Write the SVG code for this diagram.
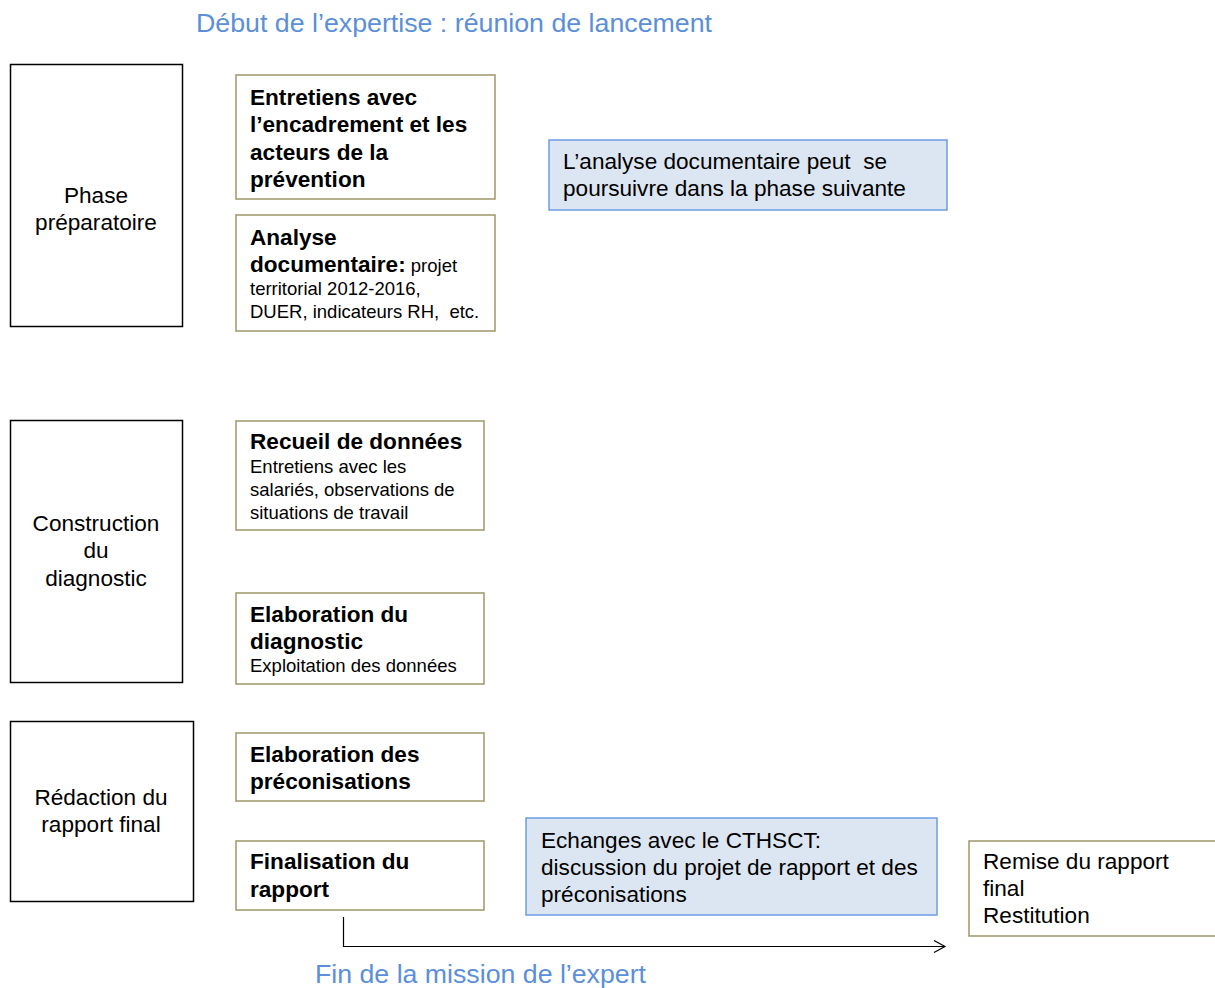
<svg xmlns="http://www.w3.org/2000/svg" width="1215" height="988" viewBox="0 0 1215 988">
<defs>
<style>
text{font-family:"Liberation Sans",Arial,sans-serif;fill:#000}
.phase{fill:#fff;stroke:#000;stroke-width:1.5}
.gold{fill:#fff;stroke:#9d9668;stroke-width:1.5}
.blue{fill:#dce6f2;stroke:#6c9de3;stroke-width:1.5}
.b{font-weight:bold;font-size:22.6px}
.s{font-size:18.5px}
.m{font-size:22.6px}
.title{font-size:26px;fill:#5b8fd9}
.c{text-anchor:middle}
</style>
<marker id="arr" markerWidth="14" markerHeight="14" refX="12" refY="7" orient="auto" markerUnits="userSpaceOnUse">
<path d="M1,1 L12,7 L1,13" fill="none" stroke="#000" stroke-width="1.2"/>
</marker>
</defs>
<rect width="1215" height="988" fill="#fff"/>
<text class="title" x="196" y="32" textLength="516" lengthAdjust="spacingAndGlyphs">Début de l’expertise : réunion de lancement</text>
<text class="title" x="315" y="983" textLength="331" lengthAdjust="spacingAndGlyphs">Fin de la mission de l’expert</text>

<g id="phase1">
<rect class="phase" x="10.5" y="64.5" width="172" height="262"/>
<text class="m c" x="96" y="203">Phase</text>
<text class="m c" x="96" y="230">préparatoire</text>
</g>
<g id="entretiens">
<rect class="gold" x="236" y="75" width="259" height="124"/>
<text class="b" x="250" y="105">Entretiens avec</text>
<text class="b" x="250" y="132">l’encadrement et les</text>
<text class="b" x="250" y="160">acteurs de la</text>
<text class="b" x="250" y="187">prévention</text>
</g>
<g id="analyse">
<rect class="gold" x="236" y="215" width="259" height="116"/>
<text class="b" x="250" y="245">Analyse</text>
<text x="250" y="272"><tspan class="b">documentaire:</tspan><tspan class="s"> projet</tspan></text>
<text class="s" x="250" y="295">territorial 2012-2016,</text>
<text class="s" x="250" y="318" xml:space="preserve">DUER, indicateurs RH,  etc.</text>
</g>
<g id="note1">
<rect class="blue" x="549" y="140" width="398" height="70"/>
<text class="m" x="563" y="169" xml:space="preserve">L’analyse documentaire peut  se</text>
<text class="m" x="563" y="196">poursuivre dans la phase suivante</text>
</g>

<g id="phase2">
<rect class="phase" x="10.5" y="420.5" width="172" height="262"/>
<text class="m c" x="96" y="531">Construction</text>
<text class="m c" x="96" y="558">du</text>
<text class="m c" x="96" y="586">diagnostic</text>
</g>
<g id="recueil">
<rect class="gold" x="236" y="421" width="248" height="109"/>
<text class="b" x="250" y="449">Recueil de données</text>
<text class="s" x="250" y="473">Entretiens avec les</text>
<text class="s" x="250" y="496">salariés, observations de</text>
<text class="s" x="250" y="519">situations de travail</text>
</g>
<g id="elabdiag">
<rect class="gold" x="236" y="593" width="248" height="91"/>
<text class="b" x="250" y="622">Elaboration du</text>
<text class="b" x="250" y="649">diagnostic</text>
<text class="s" x="250" y="672">Exploitation des données</text>
</g>

<g id="phase3">
<rect class="phase" x="10.5" y="721.5" width="183" height="180"/>
<text class="m c" x="101" y="805">Rédaction du</text>
<text class="m c" x="101" y="832">rapport final</text>
</g>
<g id="elabprec">
<rect class="gold" x="236" y="733" width="248" height="68"/>
<text class="b" x="250" y="762">Elaboration des</text>
<text class="b" x="250" y="789">préconisations</text>
</g>
<g id="finalisation">
<rect class="gold" x="236" y="841" width="248" height="69"/>
<text class="b" x="250" y="869">Finalisation du</text>
<text class="b" x="250" y="897">rapport</text>
</g>
<g id="echanges">
<rect class="blue" x="526" y="818" width="411" height="97"/>
<text class="m" x="541" y="848">Echanges avec le CTHSCT:</text>
<text class="m" x="541" y="875">discussion du projet de rapport et des</text>
<text class="m" x="541" y="902">préconisations</text>
</g>
<g id="remise">
<rect class="gold" x="969" y="841" width="250" height="95"/>
<text class="m" x="983" y="869">Remise du rapport</text>
<text class="m" x="983" y="896">final</text>
<text class="m" x="983" y="923">Restitution</text>
</g>

<g id="connectors">
<path d="M343.5,917 V946.5 H945" fill="none" stroke="#000" stroke-width="1.2" marker-end="url(#arr)"/>
</g>
</svg>
